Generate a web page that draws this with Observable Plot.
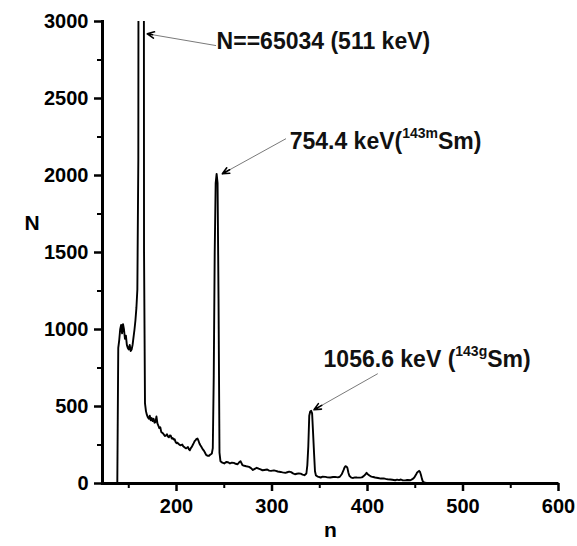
<!DOCTYPE html>
<html>
<head>
<meta charset="utf-8">
<script src="https://cdn.jsdelivr.net/npm/d3@7"></script>
<script src="https://cdn.jsdelivr.net/npm/@observablehq/plot@0.6"></script>
<style>
  html, body { margin: 0; padding: 0; background: #fff; }
  #chart svg { display: block; }
</style>
</head>
<body>
<div id="chart"></div>
<script>
// Spectrum: channel number n and counts N
const channel = [138,139,140,141,142,143,144,145,146,147,148,149,150,151,152,153,154,155,156,157,158,159,160,161,162,163,164,165,166,167,168,169,170,171,172,173,174,175,176,177,178,179,180,181,182,183,184,185,186,187,188,189,190,191,192,193,194,195,196,197,198,199,200,201,202,203,204,205,206,207,208,209,210,211,212,213,214,215,216,217,218,219,220,221,222,223,224,225,226,227,228,229,230,231,232,233,234,235,236,237,238,239,240,241,242,243,244,245,246,248,250,252,254,256,258,260,262,264,266,267,269,271,273,276,278,280,282,284,286,288,290,292,295,297,299,302,304,306,309,311,314,316,318,320,322,324,326,328,330,332,334,336,337,338,339,340,341,342,343,344,345,346,348,351,353,356,358,361,364,366,369,371,373,375,376,377,378,379,380,381,383,385,387,389,392,394,396,398,399,400,402,404,406,408,411,414,417,419,421,424,426,429,431,433,435,437,440,442,445,447,449,451,452,454,455,456,457,458,460,462];
const counts = [0,880,930,1000,1030,975,1035,1000,940,960,900,880,870,900,860,870,900,950,1000,1060,1140,1260,2100,9000,30000,65034,45000,12000,1500,520,470,445,430,420,440,410,425,405,420,395,400,435,390,375,360,365,335,330,325,315,308,312,320,305,300,312,310,292,295,285,288,270,262,265,258,252,248,250,253,242,237,232,228,232,237,222,216,230,238,250,262,275,282,290,292,278,260,248,238,228,218,210,198,186,182,180,179,186,190,195,230,700,1500,1950,2010,1950,1200,200,145,135,130,140,138,130,135,134,128,125,140,145,120,115,112,108,100,88,95,102,96,91,86,88,91,84,82,85,82,78,75,72,69,73,77,74,66,60,63,66,64,58,54,65,120,240,440,468,472,455,330,200,80,52,45,39,44,43,40,39,42,43,40,44,60,88,105,112,110,100,70,50,38,36,40,39,38,40,48,60,69,62,52,45,42,39,36,32,33,30,28,26,24,21,25,22,26,20,21,23,21,28,39,60,72,82,75,55,30,12,5,3];

// Axes
const xDomain = [122.5, 600];
const yDomain = [0, 3000];
const xTicks = [200, 300, 400, 500, 600];
const xMinorTicks = [150, 250, 350, 450, 550];
const yTicks = [0, 500, 1000, 1500, 2000, 2500, 3000];
const yMinorTicks = [250, 750, 1250, 1750, 2250, 2750];

// Annotations (text split into normal / superscript / normal)
const labelPre  = ["N==65034 (511 keV)", "754.4 keV(", "1056.6 keV ("];
const labelSup  = ["", "143m", "143g"];
const labelPost = ["", "Sm)", "Sm)"];
const labelN    = [242, 318.5, 354];
const labelCnt  = [2871, 2221, 803];
// Arrows: from (n1, N1) to tip (n2, N2)
const arrowN1 = [241, 314.3, 410.4];
const arrowC1 = [2844, 2238, 712];
const arrowN2 = [169.4, 248, 344];
const arrowC2 = [2920, 2011, 479];

const spectrum = channel.map((n, i) => ({n, N: counts[i]}));
const labels = labelPre.map((p, i) => ({n: labelN[i], N: labelCnt[i], text: p + labelSup[i] + labelPost[i]}));
const arrows = arrowN1.map((n, i) => ({x1: n, y1: arrowC1[i], x2: arrowN2[i], y2: arrowC2[i]}));
const axisLines = [
  {x1: xDomain[0], y1: yDomain[0], x2: xDomain[0], y2: yDomain[1]},
  {x1: xDomain[0], y1: yDomain[0], x2: xDomain[1], y2: yDomain[0]}
];

const font = "'Liberation Sans', Arial, Helvetica, sans-serif";
const fmt = d3.format("d");

const plot = Plot.plot({
  width: 577,
  height: 546,
  marginLeft: 102,
  marginRight: 19,
  marginTop: 21,
  marginBottom: 63,
  x: {domain: xDomain, label: null},
  y: {domain: yDomain, label: null},
  marks: [
    Plot.line(spectrum, {x: "n", y: "N", stroke: "#000", strokeWidth: 1.9, clip: true}),
    Plot.axisY(yTicks, {anchor: "left", tickSize: 8, tickPadding: 6, stroke: "#000", strokeWidth: 2.5, fontFamily: font, fontSize: 20, fontWeight: "bold", tickFormat: fmt, label: null}),
    Plot.axisY(yMinorTicks, {anchor: "left", tickSize: 5, stroke: "#000", strokeWidth: 2, tickFormat: () => "", label: null}),
    Plot.axisX(xTicks, {anchor: "bottom", tickSize: 8, tickPadding: 7, stroke: "#000", strokeWidth: 2.5, fontFamily: font, fontSize: 20, fontWeight: "bold", tickFormat: fmt, label: null}),
    Plot.axisX(xMinorTicks, {anchor: "bottom", tickSize: 5, stroke: "#000", strokeWidth: 2, tickFormat: () => "", label: null}),
    Plot.text(["N"], {text: d => d, frameAnchor: "left", dx: -78, dy: -29, fontFamily: font, fontSize: 21, fontWeight: "bold", fill: "#000"}),
    Plot.text(["n"], {text: d => d, frameAnchor: "bottom", dy: 53, fontFamily: font, fontSize: 21, fontWeight: "bold", fill: "#000"}),
    Plot.arrow(arrows, {x1: "x1", y1: "y1", x2: "x2", y2: "y2", stroke: "#7a7a7a", strokeWidth: 1, headLength: 0}),
    Plot.arrow(arrows, {x1: "x1", y1: "y1", x2: "x2", y2: "y2", stroke: "#000", strokeWidth: 1.6, headLength: 7, headAngle: 50, insetStart: 64}),
    Plot.text(labels, {x: "n", y: "N", text: "text", textAnchor: "start", fontFamily: font, fontSize: 23, fontWeight: "bold", fill: "#111", className: "annot"}),
    Plot.link(axisLines, {x1: "x1", y1: "y1", x2: "x2", y2: "y2", stroke: "#000", strokeWidth: 3}),
    Plot.frame({anchor: "left", stroke: "#000", strokeWidth: 3})
  ]
});

// Turn isotope mass numbers into superscripts
d3.select(plot).selectAll("g.annot text").each(function () {
  const i = labels.findIndex(l => l.text === this.textContent);
  if (i < 0 || !labelSup[i]) return;
  const sel = d3.select(this);
  sel.text(null);
  sel.append("tspan").text(labelPre[i]);
  sel.append("tspan").attr("font-size", 14).attr("dy", -11).text(labelSup[i]);
  sel.append("tspan").attr("dy", 11).text(labelPost[i]);
});

document.getElementById("chart").appendChild(plot);
</script>
</body>
</html>
